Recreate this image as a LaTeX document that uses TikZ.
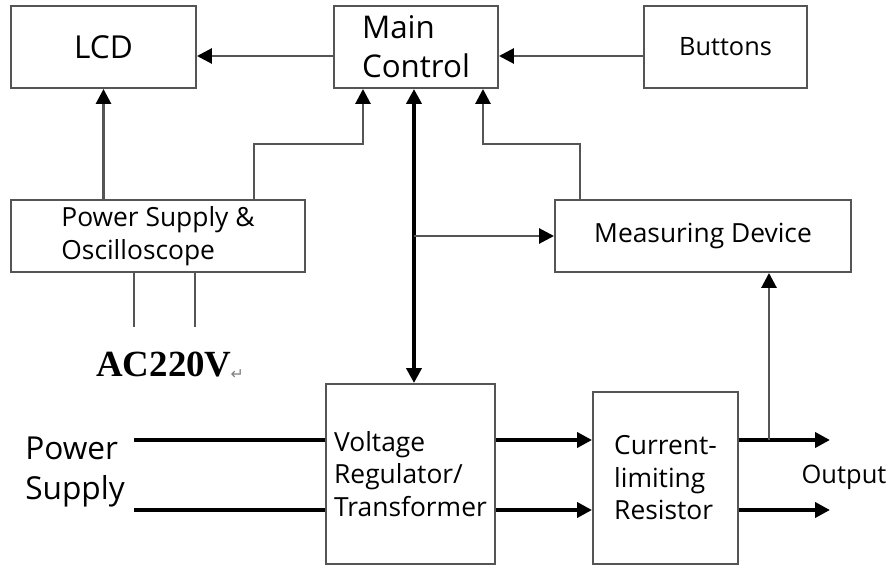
\documentclass[tikz,border=0pt]{standalone}
\usepackage{fontspec}
\setmainfont{Open Sans}
\newfontfamily\acfont{Liberation Serif}
\newfontfamily\symfont{DejaVu Sans}
\usetikzlibrary{calc, positioning, arrows.meta}
\definecolor{linegray}{HTML}{555555}

\begin{document}
\begin{tikzpicture}[
        box/.style={rectangle, draw=linegray, line width=1.1pt,
                    align=left, inner sep=0pt,
                    font=\fontsize{15}{18.5}\selectfont},
        thinline/.style={draw=linegray, line width=1.6pt},
        thinarrow/.style={thinline, -{Triangle[length=0.3cm, width=0.3cm, color=black]}},
        thickline/.style={draw=black, line width=2.8pt},
        thickarrow/.style={thickline, -{Triangle[length=0.3cm, width=0.3cm]}},
        busarrow/.style={thickline, {Triangle[length=0.3cm, width=0.3cm]}-{Triangle[length=0.3cm, width=0.3cm]}},
    ]
    \useasboundingbox (0,0) rectangle (17.92,-11.32);

    % ====== 上排 ======
    \node[box, minimum width=3.7cm, minimum height=1.64cm,
          font=\fontsize{18}{21}\selectfont] (lcd) at (2.07,-0.94) {LCD};
    \node[box, minimum width=3.28cm, minimum height=1.64cm,
          font=\fontsize{17.8}{22}\selectfont] (main) at (8.32,-0.94) {Main\\Control};
    \node[box, minimum width=3.26cm, minimum height=1.64cm,
          font=\fontsize{14.4}{18}\selectfont] (btn) at (14.51,-0.94) {Buttons};

    % ====== 中排 ======
    \node[box, minimum width=5.88cm, minimum height=1.44cm] (ps) at (3.16,-4.72)
        {Power Supply \&\\Oscilloscope};
    \node[box, minimum width=5.92cm, minimum height=1.44cm] (meas) at (14.06,-4.72)
        {Measuring Device};
    \node[font=\acfont\bfseries\fontsize{21}{24}\selectfont] (ac) at (3.28,-7.3) {AC220V};
    \node[anchor=base west, text=gray, inner sep=0pt, font=\symfont\fontsize{9}{9}\selectfont]
        (acmark) at ([xshift=-0.15cm, yshift=-0.05cm]ac.base east) {↵};

    % ====== 下排 ======
    \node[box, minimum width=3.38cm, minimum height=3.6cm] (vr) at (8.21,-9.48)
        {Voltage\\Regulator/\\Transformer};
    \node[box, minimum width=2.9cm, minimum height=3.44cm] (clr) at (13.31,-9.56)
        {Current-\\limiting\\Resistor};
    \node[align=left, font=\fontsize{18}{22.8}\selectfont] (pwr) at (1.5,-9.44) {Power\\Supply};
    \node[font=\fontsize{14.5}{17}\selectfont] (out) at (16.88,-9.54) {Output};

    \coordinate (inA) at (2.68,-8.8);
    \coordinate (inB) at (2.68,-10.2);
    \coordinate (outA) at (16.6,-8.8);
    \coordinate (outB) at (16.6,-10.2);
    \coordinate (tap) at (15.38,-8.8);

    % ====== 箭头 ======
    \draw[thinarrow] ([yshift=-0.18cm]main.west) -- ([yshift=-0.18cm]lcd.east);
    \draw[thinarrow] ([yshift=-0.18cm]btn.west) -- ([yshift=-0.18cm]main.east);
    \draw[thinarrow] (lcd.south |- ps.north) -- (lcd.south);
    \draw[thinarrow] ([xshift=1.92cm]ps.north) -- ++(0,1.1) -| ([xshift=-1.06cm]main.south);
    \draw[thinarrow] ([xshift=-2.46cm]meas.north) -- ++(0,1.1) -| ([xshift=1.34cm]main.south);
    \draw[thinline] ([xshift=-0.48cm]ps.south) -- ++(0,-1.08);
    \draw[thinline] ([xshift=0.74cm]ps.south) -- ++(0,-1.08);

    % 总线
    \draw[busarrow] ([xshift=-0.04cm]main.south) -- ([xshift=-0.04cm]main.south |- vr.north);
    \draw[thinarrow] ([xshift=-0.04cm]main.south |- meas.west) -- (meas.west);

    % 电源通路
    \draw[thickline] (inA) -- (inA -| vr.west);
    \draw[thickline] (inB) -- (inB -| vr.west);
    \draw[thickarrow] (vr.east |- inA) -- (clr.west |- inA);
    \draw[thickarrow] (vr.east |- inB) -- (clr.west |- inB);
    \draw[thickarrow] (clr.east |- outA) -- (outA);
    \draw[thickarrow] (clr.east |- outB) -- (outB);
    \draw[thinarrow] (tap) -- (tap |- meas.south);

\end{tikzpicture}
\end{document}
